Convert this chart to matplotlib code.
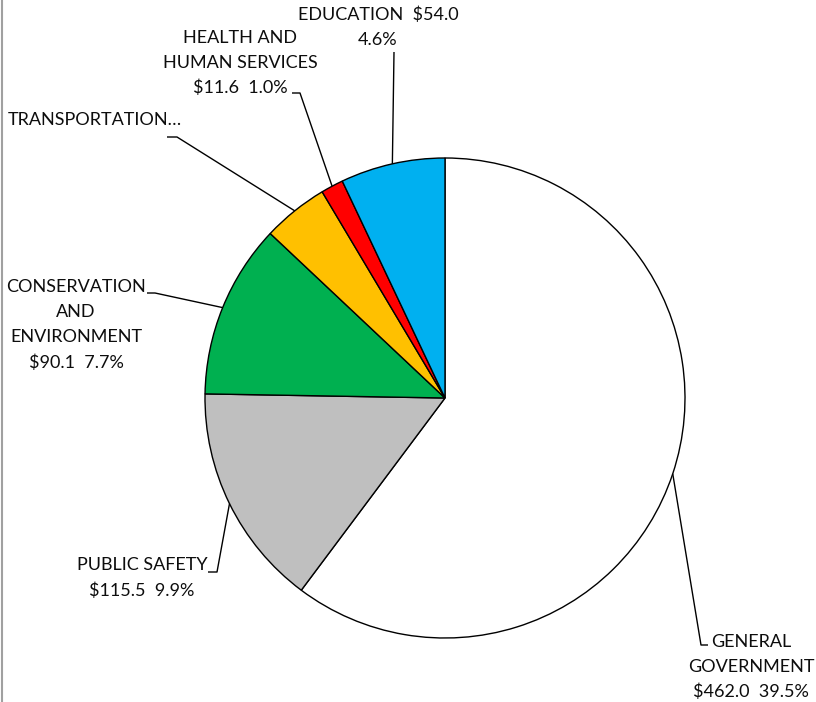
import numpy as np
import matplotlib
matplotlib.use("Agg")
import matplotlib.pyplot as plt

# ---- data ----
categories = ["GENERAL GOVERNMENT", "PUBLIC SAFETY", "CONSERVATION AND ENVIRONMENT",
              "TRANSPORTATION", "HEALTH AND HUMAN SERVICES", "EDUCATION"]
values = [462.0, 115.5, 90.1, 34.0, 11.6, 54.0]
percents = [39.5, 9.9, 7.7, 2.9, 1.0, 4.6]
label_texts = [
    "GENERAL\nGOVERNMENT\n$462.0  39.5%",
    "PUBLIC SAFETY\n$115.5  9.9%",
    "CONSERVATION\nAND\nENVIRONMENT\n$90.1  7.7%",
    "TRANSPORTATION…",
    "HEALTH AND\nHUMAN SERVICES\n$11.6  1.0%",
    "EDUCATION  $54.0\n4.6%",
]
colors = ["#FFFFFF", "#BFBFBF", "#00B050", "#FFC000", "#FF0000", "#00B0F0"]

# ---- layout (pixel coords, y measured from top) ----
W, H = 816, 702
CX, CY, R = 445, 398, 240
text_pos = [(751, 667), (142, 578), (76, 325), (95, 120), (240, 63), (378, 27)]
elbows = [[(701, 645), (708, 645)],
          [(217, 572), (208, 572)],
          [(155, 293), (147, 293)],
          [(177, 137), (167, 137)],
          [(300, 93), (292, 93)],
          [(394, 52)]]

plt.rcParams['font.family'] = ['Lato', 'DejaVu Sans']

fig = plt.figure(figsize=(W / 100, H / 100), dpi=100)
ax = fig.add_axes([0, 0, 1, 1])

def Y(y):
    return H - y

wedges, _ = ax.pie(values, colors=colors, startangle=90, counterclock=False,
                   center=(CX, Y(CY)), radius=R,
                   wedgeprops=dict(edgecolor='black', linewidth=1.0))
ax.set_xlim(0, W)
ax.set_ylim(0, H)
ax.set_aspect('equal')
ax.axis('off')

for w, txt, (tx, ty), elb in zip(wedges, label_texts, text_pos, elbows):
    mid = np.deg2rad((w.theta1 + w.theta2) / 2)
    ex = CX + R * np.cos(mid)
    ey = Y(CY) + R * np.sin(mid)
    xs = [ex] + [p[0] for p in elb]
    ys = [ey] + [Y(p[1]) for p in elb]
    ax.plot(xs, ys, color='black', lw=1.0, solid_capstyle='butt')
    ax.text(tx, Y(ty), txt, ha='center', va='center', multialignment='center',
            fontsize=13, color='#0d0d0d', linespacing=1.68)

# left border of chart area
ax.plot([2, 2], [0, H], color='#A0A0A0', lw=1.5)

fig.savefig("out.png", dpi=100)
